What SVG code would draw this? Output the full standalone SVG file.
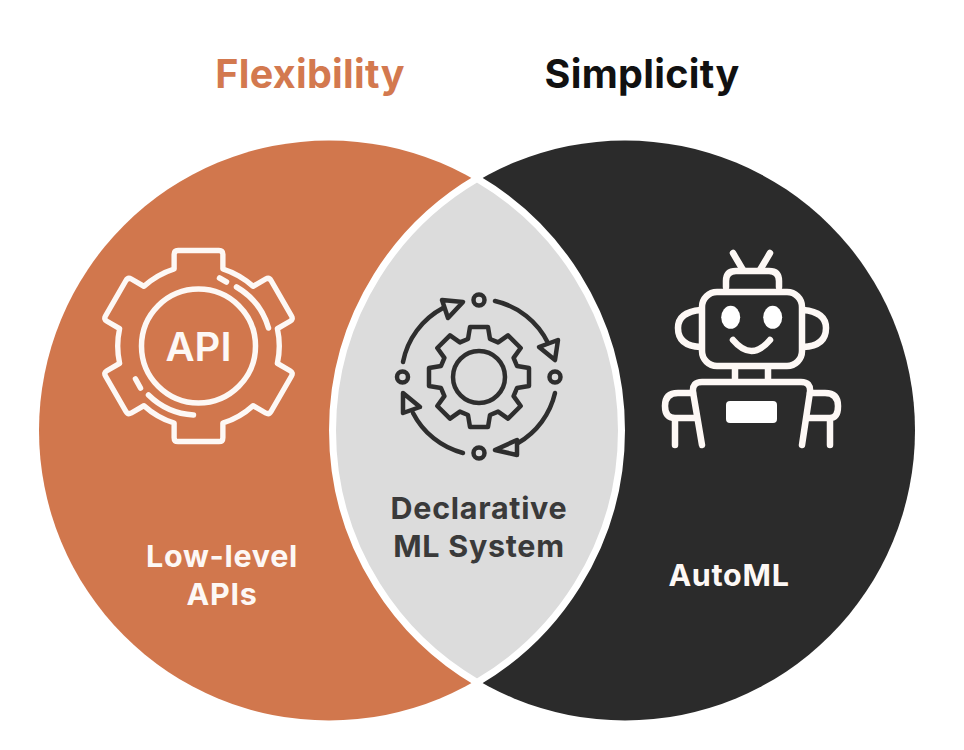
<svg xmlns="http://www.w3.org/2000/svg" width="964" height="750" viewBox="0 0 964 750">
<style>
text{font-family:Inter,"Liberation Sans",sans-serif;font-weight:700;text-anchor:middle}
.t{font-size:39.5px;letter-spacing:.3px}
.l{font-size:30.500px;letter-spacing:.7px}
.w{fill:#fdf8f5}
.wl{fill:none;stroke:#fdf8f5;stroke-width:5.500;stroke-linecap:round;stroke-linejoin:round}
.dl{fill:none;stroke:#2e2e2e;stroke-width:4.500;stroke-linecap:round;stroke-linejoin:round}
</style>
<rect width="964" height="750" fill="#fff"/>
<g id="title-flexibility"><text class="t" x="310" y="88" fill="#d3794f">Flexibility</text></g>
<g id="title-simplicity"><text class="t" x="642" y="88" fill="#111">Simplicity</text></g>
<g id="low-level-apis">
<circle cx="329" cy="430.500" r="290" fill="#d1774d"/>
</g>
<g id="automl">
<circle cx="625" cy="430.500" r="290" fill="#2b2b2b"/>
</g>
<g id="declarative-ml-system">
<path d="M477 178.500A292 292 0 0 1 477 682.500A292 292 0 0 1 477 178.500Z" fill="#dcdcdc" stroke="#fff" stroke-width="7" stroke-linejoin="round"/>
<g class="dl" transform="translate(479 377)">
<path d="M-11-38L-9-50H9L11-38L19.100-34.600L29-41.700L41.700-29L34.600-19.100L38-11L50-9V9L38 11L34.600 19.100L41.700 29L29 41.700L19.100 34.600L11 38L9 50H-9L-11 38L-19.100 34.600L-29 41.700L-41.700 29L-34.600 19.100L-38 11L-50 9V-9L-38-11L-34.600-19.100L-41.700-29L-29-41.700L-19.100-34.600Z"/>
<circle r="26"/>
<circle cy="-77" r="5.500"/><circle cx="76" r="5.500"/><circle cy="76" r="5.500"/><circle cx="-76.500" r="5.500"/>
<path d="M16-76A78 78 0 0 1 69-34"/>
<path d="M76 16A78 78 0 0 1 39 66"/>
<path d="M-16 76A78 78 0 0 1-66 36"/>
<path d="M-76-15A78 78 0 0 1-36-69"/>
<path d="M79-37L60-30L76-17Z"/>
<path d="M16 73L38 63L38 78Z"/>
<path d="M-76 16L-59 30L-76 36Z"/>
<path d="M-16-75L-37-77L-31-59Z"/>
</g>
<text class="l" x="479" y="519" fill="#3a3a3a">Declarative</text>
<text class="l" x="479" y="557" fill="#3a3a3a">ML System</text>
</g>
<g id="api-gear" transform="translate(198.500 346)">
<path class="wl" transform="scale(.975)" d="M-25-79V-94Q-25-98-21-98H21Q25-98 25-94V-79A83 83 0 0 1 55.900-61.200L68.900-68.700Q72.400-70.650 74.400-67.200L95.400-30.800Q97.400-27.350 93.900-25.350L80.900-17.850A83 83 0 0 1 80.900 17.850L93.900 25.350Q97.400 27.350 95.400 30.800L74.400 67.200Q72.400 70.650 68.900 68.700L55.900 61.200A83 83 0 0 1 25 79V94Q25 98 21 98H-21Q-25 98-25 94V79A83 83 0 0 1-55.900 61.200L-68.900 68.700Q-72.400 70.650-74.400 67.200L-95.400 30.800Q-97.400 27.350-93.900 25.350L-80.900 17.850A83 83 0 0 1-80.900-17.850L-93.900-25.350Q-97.400-27.350-95.400-30.800L-74.400-67.200Q-72.400-70.650-68.900-68.700L-55.900-61.200A83 83 0 0 1-25-79Z"/>
<circle class="wl" r="57"/>
<path class="wl" d="M38-59A70 70 0 0 1 70-18"/>
<path class="wl" d="M21-68L28-64"/>
<path class="wl" d="M-50 49A70 70 0 0 0-5 69"/>
<path class="wl" d="M-63 33L-58 42"/>
<text x="0" y="15" font-size="40" fill="#fdf8f5" style="font-weight:600">API</text>
</g>
<text class="l w" x="222" y="567">Low-level</text>
<text class="l w" x="222" y="605">APIs</text>
<g id="robot" class="wl" style="stroke-width:6.500">
<path d="M733 253L743 270M770 253L760 270"/>
<path d="M726 287V281Q726 271 736 271H769Q779 271 779 281V287"/>
<rect x="702" y="292" width="100" height="74" rx="15"/>
<ellipse cx="730.700" cy="317.300" rx="9.500" ry="11.500" fill="#fff" stroke="none"/>
<ellipse cx="772.700" cy="317.300" rx="9.500" ry="11.500" fill="#fff" stroke="none"/>
<path d="M733 340Q751.500 362 770 340"/>
<path d="M701 310Q678 312 678 328Q678 346 701 347"/>
<path d="M803 310Q826 312 826 328Q826 346 803 347"/>
<path d="M735 368V380M768 368V380"/>
<path d="M702 445L693 392Q692 382 702 382H801Q811 382 810 392L802 445"/>
<path d="M693 393H678Q665 393 665 406Q665 418 675 418H696M675 418V445"/>
<path d="M810 393H825Q838 393 838 406Q838 418 830 418H807M830 418V445"/>
<rect x="726" y="401" width="51" height="22" rx="4" fill="#fff" stroke="none"/>
</g>
<text class="l" x="729" y="586" fill="#fdf8f5">AutoML</text>
</svg>
